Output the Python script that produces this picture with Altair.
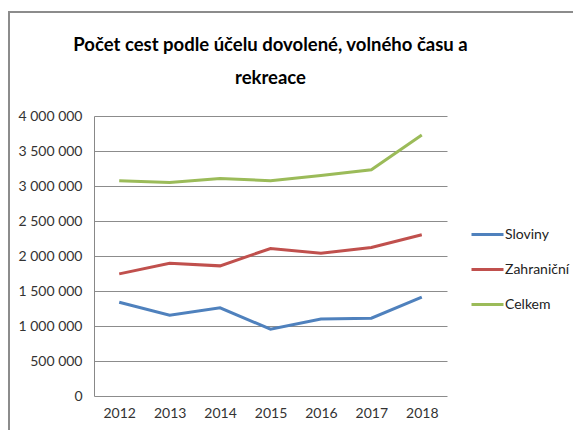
import altair as alt
import pandas as pd

years = ["2012", "2013", "2014", "2015", "2016", "2017", "2018"]
sloviny = [1340000, 1154000, 1259000, 954000, 1101000, 1111000, 1411000]
zahranicni = [1745000, 1897000, 1859000, 2107000, 2041000, 2122000, 2303000]
celkem = [3075000, 3051000, 3108000, 3075000, 3151000, 3232000, 3728000]
series = ["Sloviny", "Zahraniční", "Celkem"]
colors = ["#4F81BD", "#C0504D", "#9BBB59"]

rows = []
for name, vals in zip(series, [sloviny, zahranicni, celkem]):
    for y, v in zip(years, vals):
        rows.append({"rok": y, "hodnota": v, "serie": name})
df = pd.DataFrame(rows)

FONT = "Liberation Sans Narrow, Lato, sans-serif"

lines = alt.Chart(df).mark_line(strokeWidth=3).encode(
    x=alt.X("rok:O", scale=alt.Scale(type="point", padding=0.5),
            axis=alt.Axis(title=None, labelAngle=0, ticks=False, domain=False,
                          grid=False, labelPadding=10, labelFontSize=14)),
    y=alt.Y("hodnota:Q", scale=alt.Scale(domain=[0, 4000000]),
            axis=alt.Axis(title=None, values=[i * 500000 for i in range(9)],
                          ticks=False, domain=True, domainColor="#888888",
                          grid=True, gridColor="#8c8c8c", labelPadding=12,
                          labelFontSize=14, labelOverlap=False,
                          labelExpr="replace(format(datum.value, ',d'), /,/g, ' ')")),
    color=alt.Color("serie:N", scale=alt.Scale(domain=series, range=colors),
                    sort=series,
                    legend=alt.Legend(title=None, orient="none", legendX=376, legendY=101,
                                      symbolType="stroke", symbolSize=1024,
                                      symbolStrokeWidth=3, labelFontSize=14,
                                      labelOffset=0, rowPadding=10)),
)

frame_top = alt.Chart(df).mark_rule(color="#8c8c8c", strokeWidth=1.5).encode(
    x=alt.value(-86), x2=alt.value(480), y=alt.value(-104)
)
frame_left = alt.Chart(df).mark_rule(color="#8c8c8c", strokeWidth=1.5).encode(
    x=alt.value(-85), y=alt.value(-104), y2=alt.value(330)
)

chart = alt.layer(frame_top, frame_left, lines).properties(
    width=353, height=280,
    title=alt.TitleParams(["Počet cest podle účelu dovolené, volného času a", "rekreace"],
                          anchor="middle", fontSize=18.5, fontWeight="bold",
                          font=FONT, lineHeight=33, offset=-76, color="#000000"),
    autosize=alt.AutoSizeParams(type="none"),
    padding={"left": 86, "top": 108, "right": 126, "bottom": 34},
).configure_view(stroke=None).configure_axis(
    labelFont=FONT, labelColor="#333333"
).configure_legend(labelFont=FONT, labelColor="#222222")

chart.save("out.html", embed_options={"renderer": "svg", "actions": False})
